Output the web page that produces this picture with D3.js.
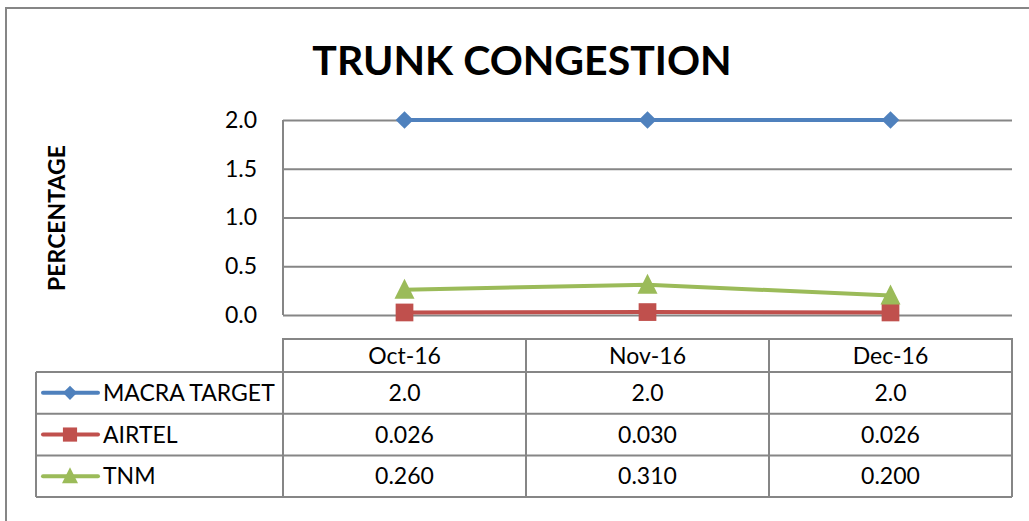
<!DOCTYPE html>
<html>
<head>
<meta charset="utf-8">
<script src="https://cdn.jsdelivr.net/npm/d3@7"></script>
<style>
  body { margin: 0; background: #fff; }
  text { font-family: Lato, "Open Sans", sans-serif; fill: #000; }
</style>
</head>
<body>
<div id="chart"></div>
<script>
// data
const months = ['Oct-16', 'Nov-16', 'Dec-16'];
const seriesNames = ['MACRA TARGET', 'AIRTEL', 'TNM'];
const macraTarget = [2.0, 2.0, 2.0];
const airtel = [0.026, 0.030, 0.026];
const tnm = [0.260, 0.310, 0.200];
const yTicks = [0, 0.5, 1.0, 1.5, 2.0];

const width = 1029, height = 521;
const fontSize = '23px';

const svg = d3.select('#chart').append('svg')
    .attr('width', width)
    .attr('height', height);

// chart frame (runs off the right and bottom edges)
svg.append('rect')
    .attr('x', 6).attr('y', 8)
    .attr('width', 1040).attr('height', 530)
    .attr('fill', 'none')
    .attr('stroke', '#868686')
    .attr('stroke-width', 2);

let plot = { left: 283, right: 1012, top: 120, bottom: 315 };

let x = d3.scaleBand()
    .domain(months)
    .range([plot.left, plot.right]);

let y = d3.scaleLinear()
    .domain([0, 2.0])
    .range([plot.bottom, plot.top]);

let series = [
    { name: seriesNames[0], values: macraTarget, color: '#4F81BD', marker: 'diamond', fmt: d3.format('.1f') },
    { name: seriesNames[1], values: airtel, color: '#C0504D', marker: 'square', fmt: d3.format('.3f') },
    { name: seriesNames[2], values: tnm, color: '#9BBB59', marker: 'triangle', fmt: d3.format('.3f') }
];

// title
svg.append('text')
    .attr('x', 522).attr('y', 75)
    .attr('text-anchor', 'middle')
    .style('font-size', '41px')
    .style('font-weight', 'bold')
    .text('TRUNK CONGESTION');

// y axis title
svg.append('text')
    .attr('transform', 'translate(65,218) rotate(-90)')
    .attr('text-anchor', 'middle')
    .style('font-size', '23px')
    .style('font-weight', 'bold')
    .text('PERCENTAGE');

// gridlines + tick labels
let yAxis = svg.append('g')
    .attr('transform', 'translate(' + plot.left + ',0)')
    .call(d3.axisLeft(y)
        .tickValues(yTicks)
        .tickFormat(d3.format('.1f'))
        .tickSize(-(plot.right - plot.left))
        .tickPadding(26));

yAxis.select('.domain').remove();
yAxis.selectAll('line')
    .attr('stroke', '#868686')
    .attr('stroke-width', 2);
yAxis.selectAll('text')
    .style('font-size', fontSize)
    .style('font-family', 'Lato, "Open Sans", sans-serif');

// left axis line
svg.append('line')
    .attr('x1', plot.left).attr('x2', plot.left)
    .attr('y1', plot.top).attr('y2', plot.bottom)
    .attr('stroke', '#868686')
    .attr('stroke-width', 2);

function markerPath(type, s) {
    if (type === 'diamond') return d3.symbol(d3.symbolDiamond2, s * s * 0.5)();
    if (type === 'square') return d3.symbol(d3.symbolSquare2, s * s)();
    return 'M0,' + (-s / 2 - 1) + 'L' + (s / 2) + ',' + (s / 2 - 1) + 'L' + (-s / 2) + ',' + (s / 2 - 1) + 'Z';
}

let lineGen = d3.line()
    .x(function(d, i) { return x(months[i]) + x.bandwidth() / 2; })
    .y(function(d) { return y(d); });

series.forEach(function(s) {
    svg.append('path')
        .attr('d', lineGen(s.values))
        .attr('fill', 'none')
        .attr('stroke', s.color)
        .attr('stroke-width', 4);

    svg.selectAll(null)
        .data(s.values)
        .enter()
        .append('path')
        .attr('d', markerPath(s.marker, 20))
        .attr('transform', function(d, i) {
            return 'translate(' + (x(months[i]) + x.bandwidth() / 2) + ',' + y(d) + ')';
        })
        .attr('fill', s.color);
});

// data table
let table = { top: 339, header: 372, rowH: 41.7, legendLeft: 36 };
let tableBottom = table.header + table.rowH * series.length;
let grid = svg.append('g')
    .attr('stroke', '#868686')
    .attr('stroke-width', 2)
    .attr('fill', 'none');

// header row box
grid.append('path')
    .attr('d', 'M' + plot.left + ',' + tableBottom + 'V' + table.top + 'H' + plot.right + 'V' + tableBottom);
// row lines
series.forEach(function(s, i) {
    grid.append('line')
        .attr('x1', table.legendLeft).attr('x2', plot.right)
        .attr('y1', table.header + table.rowH * i)
        .attr('y2', table.header + table.rowH * i);
});
grid.append('line')
    .attr('x1', table.legendLeft).attr('x2', plot.right)
    .attr('y1', tableBottom).attr('y2', tableBottom);
grid.append('line')
    .attr('x1', table.legendLeft).attr('x2', table.legendLeft)
    .attr('y1', table.header).attr('y2', tableBottom);
months.forEach(function(m, i) {
    if (i === 0) return;
    grid.append('line')
        .attr('x1', x(m)).attr('x2', x(m))
        .attr('y1', table.top).attr('y2', tableBottom);
});

// header labels
svg.selectAll('.month')
    .data(months)
    .enter()
    .append('text')
    .attr('class', 'month')
    .attr('x', function(d) { return x(d) + x.bandwidth() / 2; })
    .attr('y', (table.top + table.header) / 2)
    .attr('dy', '0.35em')
    .attr('text-anchor', 'middle')
    .style('font-size', fontSize)
    .text(function(d) { return d; });

series.forEach(function(s, i) {
    let cy = table.header + table.rowH * (i + 0.5);

    // legend key
    svg.append('line')
        .attr('x1', 43).attr('x2', 98)
        .attr('y1', cy).attr('y2', cy)
        .attr('stroke', s.color)
        .attr('stroke-width', 4)
        .attr('stroke-linecap', 'round');
    svg.append('path')
        .attr('d', markerPath(s.marker, 16))
        .attr('transform', 'translate(70,' + cy + ')')
        .attr('fill', s.color);

    svg.append('text')
        .attr('x', 103).attr('y', cy)
        .attr('dy', '0.35em')
        .style('font-size', fontSize)
        .text(s.name);

    svg.selectAll(null)
        .data(s.values)
        .enter()
        .append('text')
        .attr('x', function(d, j) { return x(months[j]) + x.bandwidth() / 2; })
        .attr('y', cy)
        .attr('dy', '0.35em')
        .attr('text-anchor', 'middle')
        .style('font-size', fontSize)
        .text(function(d) { return s.fmt(d); });
});
</script>
</body>
</html>
